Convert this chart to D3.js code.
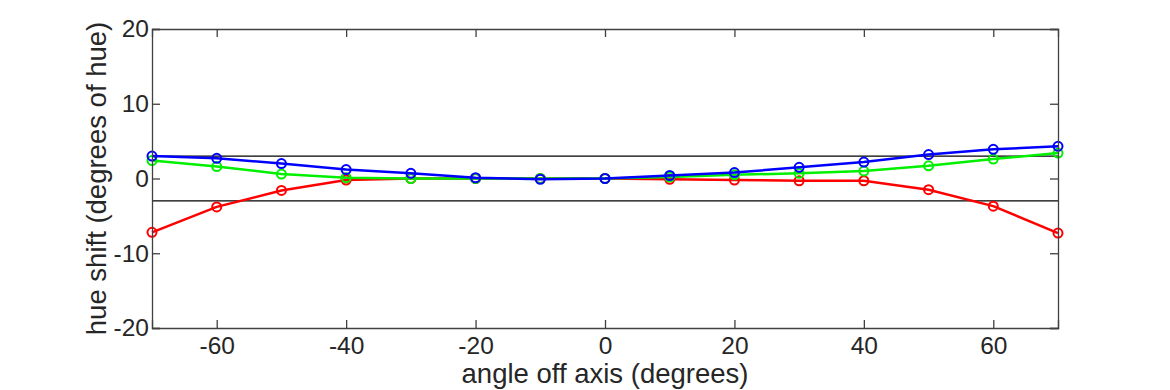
<!DOCTYPE html>
<html>
<head>
  <style>
    body { margin: 0; background: #fff; }
    svg text { font-family: "Liberation Sans", Arial, sans-serif; fill: #262626; }
  </style>
</head>
<body>
  <svg id="chart" width="1170" height="390"></svg>
  <script src="https://d3js.org/d3.v7.min.js"></script>
  <script>
    // angles off axis (degrees)
    const angles = [-70, -60, -50, -40, -30, -20, -10, 0, 10, 20, 30, 40, 50, 60, 70];
    // hue shift per channel
    const redShift = [-7.2, -3.8, -1.6, -0.2, 0, 0, 0, 0, -0.1, -0.2, -0.3, -0.3, -1.5, -3.7, -7.3];
    const greenShift = [2.4, 1.6, 0.6, 0.1, 0, 0, 0, 0, 0.2, 0.5, 0.7, 1.0, 1.7, 2.6, 3.4];
    const blueShift = [3.0, 2.7, 2.0, 1.2, 0.7, 0.1, -0.1, 0, 0.4, 0.8, 1.5, 2.2, 3.2, 3.9, 4.3];
    const limits = [3, -3];
    const xTicks = [-60, -40, -20, 0, 20, 40, 60];
    const yTicks = [-20, -10, 0, 10, 20];

    const margin = {top: 29, right: 112, bottom: 62, left: 152};
    const width = 1170 - margin.left - margin.right;
    const height = 390 - margin.top - margin.bottom;

    const svg = d3.select("#chart");
    const g = svg.append("g")
      .attr("transform", `translate(${margin.left},${margin.top})`);

    const x = d3.scaleLinear().domain([-70, 70]).range([0, width]);
    const y = d3.scaleLinear().domain([-20, 20]).range([height, 0]);

    // threshold lines
    g.selectAll(".limit")
      .data(limits)
      .enter()
      .append("line")
      .attr("x1", 0)
      .attr("x2", width)
      .attr("y1", d => y(d))
      .attr("y2", d => y(d))
      .attr("stroke", "#000")
      .attr("stroke-width", 1.2);

    const series = [
      {values: redShift, color: "#ff0000"},
      {values: greenShift, color: "#00f000"},
      {values: blueShift, color: "#0000ff"}
    ];

    const line = d3.line()
      .x((d, i) => x(angles[i]))
      .y(d => y(d));

    series.forEach(s => {
      g.append("path")
        .datum(s.values)
        .attr("fill", "none")
        .attr("stroke", s.color)
        .attr("stroke-width", 2.5)
        .attr("d", line);

      g.selectAll(null)
        .data(s.values)
        .enter()
        .append("circle")
        .attr("cx", (d, i) => x(angles[i]))
        .attr("cy", d => y(d))
        .attr("r", 4.5)
        .attr("fill", "none")
        .attr("stroke", s.color)
        .attr("stroke-width", 2);
    });

    // axes, ticks pointing inward
    const axisColor = "#404040";
    const fmt = d => d3.format("d")(d).replace("−", "-");
    const axBottom = g.append("g")
      .attr("transform", `translate(0,${height})`)
      .call(d3.axisBottom(x).tickValues(xTicks).tickSize(-8).tickPadding(9).tickFormat(fmt));
    const axTop = g.append("g")
      .call(d3.axisTop(x).tickValues(xTicks).tickSize(-8).tickFormat(""));
    const axLeft = g.append("g")
      .call(d3.axisLeft(y).tickValues(yTicks).tickSize(-8).tickPadding(3).tickFormat(fmt));
    const axRight = g.append("g")
      .attr("transform", `translate(${width},0)`)
      .call(d3.axisRight(y).tickValues(yTicks).tickSize(-8).tickFormat(""));

    [axBottom, axTop, axLeft, axRight].forEach(a => {
      a.select(".domain").attr("stroke", axisColor).attr("stroke-width", 1.3);
      a.selectAll(".tick line").attr("stroke", axisColor).attr("stroke-width", 1.3);
      a.selectAll("text")
        .style("font-family", "'Liberation Sans', Arial, sans-serif")
        .style("font-size", "24.5px")
        .attr("fill", "#262626");
    });

    // axis labels
    svg.append("text")
      .attr("x", margin.left + width / 2)
      .attr("y", 383)
      .attr("text-anchor", "middle")
      .style("font-size", "27.5px")
      .text("angle off axis (degrees)");

    svg.append("text")
      .attr("transform", `translate(106,${margin.top + height / 2}) rotate(-90)`)
      .attr("text-anchor", "middle")
      .style("font-size", "27.5px")
      .text("hue shift (degrees of hue)");
  </script>
</body>
</html>
